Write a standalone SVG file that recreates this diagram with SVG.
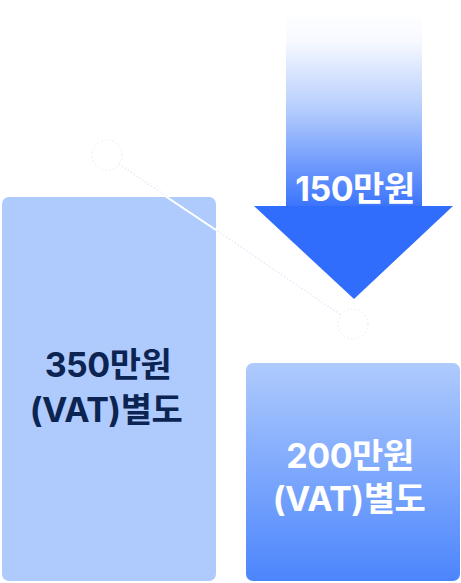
<svg xmlns="http://www.w3.org/2000/svg" width="461" height="583" viewBox="0 0 461 583">
<defs>
<linearGradient id="shaft" x1="0" y1="0" x2="0" y2="1">
<stop offset="0" stop-color="#FFFFFF"/>
<stop offset="0.15" stop-color="#F7F9FF"/>
<stop offset="0.5" stop-color="#B5CDFD"/>
<stop offset="1" stop-color="#3A74FC"/>
</linearGradient>
<linearGradient id="box2" x1="0" y1="0" x2="0" y2="1">
<stop offset="0" stop-color="#AFCBFD"/>
<stop offset="1" stop-color="#4C85FC"/>
</linearGradient>
<style>
.lbl{font-family:"Inter","Noto Sans CJK KR",sans-serif;font-weight:700;font-size:34px;text-anchor:middle;letter-spacing:-0.5px}
.ring{fill:none;stroke:#E4EBFA;stroke-width:1;stroke-dasharray:1.5 2.5}
</style>
</defs>
<g id="left-box">
<rect x="2" y="197" width="214" height="384" rx="7" fill="#AFCBFD"/>
<text class="lbl" x="108" y="377" fill="#0C2452">350만원</text>
<text class="lbl" x="106" y="422" fill="#0C2452">(VAT)별도</text>
</g>
<g id="connectors">
<circle class="ring" cx="107" cy="155" r="15"/>
<circle class="ring" cx="353" cy="324" r="15"/>
<line x1="119" y1="164" x2="341" y2="315" stroke="#E4EBFA" stroke-width="1.5" stroke-dasharray="1.5 2"/>
<line x1="165" y1="196" x2="216" y2="230" stroke="#FFFFFF" stroke-width="2"/>
</g>
<g id="right-box">
<rect x="246" y="363" width="214" height="218" rx="7" fill="url(#box2)"/>
<text class="lbl" x="350" y="468" fill="#FFFFFF">200만원</text>
<text class="lbl" x="349" y="511" fill="#FFFFFF">(VAT)별도</text>
</g>
<g id="arrow">
<rect x="286" y="12" width="136" height="195" fill="url(#shaft)"/>
<polygon points="254,206 453,206 354,299" fill="#316DFC"/>
<text class="lbl" x="355" y="201" fill="#FFFFFF">150만원</text>
</g>
</svg>
